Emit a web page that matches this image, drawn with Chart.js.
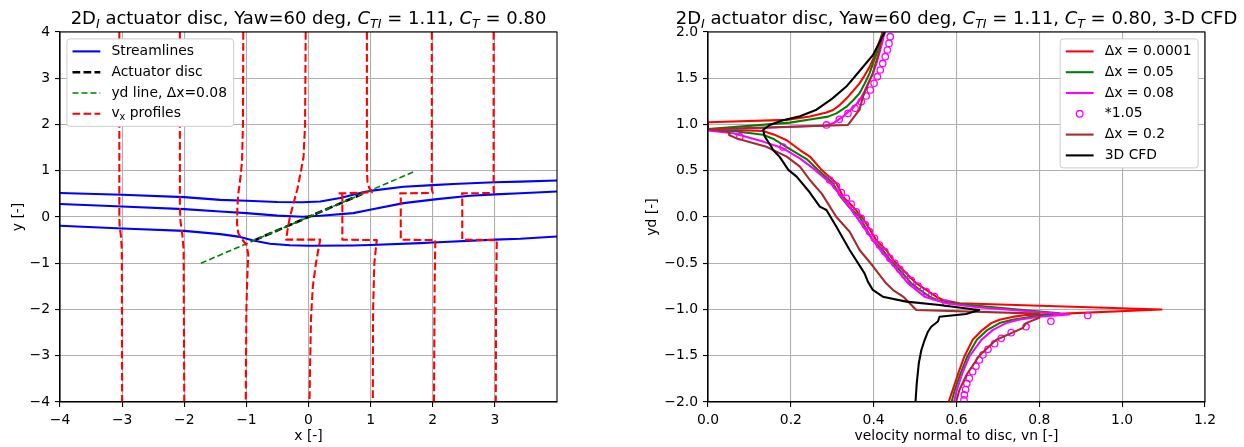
<!DOCTYPE html>
<html>
<head>
<meta charset="utf-8">
<script src="https://cdn.jsdelivr.net/npm/chart.js@4.4.1/dist/chart.umd.min.js"></script>
<style>
html,body{margin:0;padding:0;background:#fff;}
body{width:1244px;height:447px;position:relative;overflow:hidden;}
canvas{position:absolute;top:0;}
#c1{left:0;} #c2{left:622px;}
</style>
</head>
<body>
<canvas id="c1" width="622" height="447"></canvas>
<canvas id="c2" width="622" height="447"></canvas>
<script>
// ================= LEFT PANEL DATA =================
const xTicksL = [-4, -3, -2, -1, 0, 1, 2, 3];
const yTicksL = [-4, -3, -2, -1, 0, 1, 2, 3, 4];

const stream1X = [-4, -3, -2, -1.42, -1, -0.5, -0.1, 0.19, 0.51, 0.83, 0.99, 1.53, 2.0, 2.33, 3.0, 3.41, 4];
const stream1Y = [0.52, 0.48, 0.43, 0.37, 0.35, 0.325, 0.32, 0.335, 0.41, 0.52, 0.565, 0.655, 0.69, 0.715, 0.75, 0.765, 0.79];
const stream2X = [-4, -3, -2, -1.42, -1, -0.5, -0.1, 0.19, 0.72, 0.99, 1.53, 2.07, 2.6, 3.0, 3.41, 4];
const stream2Y = [0.28, 0.227, 0.17, 0.12, 0.084, 0.03, 0.005, 0.026, 0.084, 0.155, 0.30, 0.387, 0.458, 0.49, 0.515, 0.55];
const stream3X = [-4, -3, -2, -1.42, -1.1, -0.89, -0.62, -0.3, 0, 0.72, 1.0, 1.8, 2.0, 3.0, 3.41, 4];
const stream3Y = [-0.19, -0.25, -0.30, -0.37, -0.43, -0.51, -0.58, -0.61, -0.62, -0.615, -0.605, -0.565, -0.55, -0.49, -0.47, -0.42];

const discX = [-0.866, 0.866];
const discY = [-0.5, 0.5];
const ydLineX = [-1.732, 1.732];
const ydLineY = [-1, 1];

const profM3X = [-3.045, -3.045, -3.04, -3.02, -3.005, -3.0];
const profM3Y = [4, 0.0, -0.2, -0.4, -0.7, -4];
const profM2X = [-2.07, -2.07, -2.06, -2.03, -2.01, -2.0];
const profM2Y = [4, 0.2, -0.1, -0.4, -0.7, -4];
const profM1X = [-1.05, -1.055, -1.07, -1.10, -1.13, -1.145, -1.15, -1.13, -1.07, -1.0, -0.97, -0.985, -1.0, -1.01];
const profM1Y = [4, 2, 1.2, 0.8, 0.5, 0.2, -0.15, -0.35, -0.48, -0.6, -0.8, -1.3, -2, -4];
const prof0X = [-0.045, -0.055, -0.08, -0.12, -0.18, -0.24, -0.3, -0.34, -0.36, 0.19, 0.17, 0.12, 0.07, 0.04, 0.015];
const prof0Y = [4, 2, 1.3, 1.0, 0.6, 0.3, 0.0, -0.3, -0.49, -0.49, -0.62, -1.0, -1.5, -2.2, -4];
const prof1X = [0.94, 0.94, 0.95, 0.98, 1.02, 0.48, 0.545, 0.545, 1.10, 1.09, 1.06, 1.04, 1.035];
const prof1Y = [4, 1.0, 0.75, 0.62, 0.53, 0.51, 0.48, -0.49, -0.50, -0.6, -1.0, -2, -4];
const prof2X = [1.985, 1.985, 2.0, 1.475, 1.485, 1.485, 2.04, 2.04, 2.03, 2.02];
const prof2Y = [4, 0.6, 0.52, 0.51, 0.49, -0.49, -0.5, -0.6, -1.5, -4];
const prof3X = [2.98, 2.98, 2.985, 2.47, 2.475, 2.475, 3.03, 3.03, 3.02, 3.015];
const prof3Y = [4, 0.6, 0.52, 0.51, 0.49, -0.49, -0.5, -0.6, -1.5, -4];

// ================= RIGHT PANEL DATA =================
const xTicksR = [0, 0.2, 0.4, 0.6, 0.8, 1.0, 1.2];
const yTicksR = [-2, -1.5, -1, -0.5, 0, 0.5, 1, 1.5, 2];

const dx0001V = [0.422,0.414,0.406,0.398,0.39,0.378,0.366,0.35,0.334,0.318,0.302,0.286,0.246,0.19,0.0,
  0.0,0.06,0.133,0.16,0.19,0.222,0.246,0.274,0.31,0.326,0.35,0.372,0.39,0.406,0.43,0.447,0.468,0.487,0.503,0.527,0.551,0.567,0.607,
  1.095,
  0.8,0.768,0.735,0.704,0.684,0.663,0.639,0.619,0.605,0.591,0.581];
const dx0001Yd = [2.0,1.9,1.8,1.7,1.62,1.53,1.445,1.36,1.28,1.21,1.157,1.13,1.086,1.05,1.025,
  0.95,0.94,0.93,0.89,0.83,0.724,0.654,0.51,0.364,0.22,0.11,0.0,-0.13,-0.25,-0.357,-0.465,-0.56,-0.645,-0.717,-0.789,-0.86,-0.897,-0.933,
  -1.0,
  -1.055,-1.06,-1.08,-1.11,-1.147,-1.22,-1.328,-1.508,-1.68,-1.868,-2.0];

const dx005V = [0.422,0.416,0.41,0.4,0.39,0.378,0.366,0.35,0.334,0.31,0.29,0.246,0.198,0.0,
  0.0,0.06,0.133,0.16,0.202,0.24,0.265,0.302,0.32,0.34,0.366,0.382,0.398,0.422,0.44,0.46,0.477,0.491,0.512,0.535,0.555,0.591,0.65,
  0.848,
  0.784,0.735,0.704,0.675,0.649,0.626,0.61,0.596,0.588];
const dx005Yd = [2.0,1.9,1.805,1.68,1.553,1.44,1.337,1.26,1.19,1.12,1.085,1.055,1.02,0.95,
  0.945,0.93,0.89,0.84,0.724,0.62,0.51,0.364,0.22,0.11,0.003,-0.13,-0.25,-0.357,-0.465,-0.56,-0.645,-0.717,-0.789,-0.861,-0.9,-0.933,-0.96,
  -1.04,
  -1.075,-1.11,-1.147,-1.22,-1.328,-1.508,-1.69,-1.868,-2.0];

const dx008V = [0.427,0.418,0.408,0.398,0.39,0.378,0.366,0.35,0.334,0.326,0.305,0.286,0.0,
  0.0,0.061,0.133,0.181,0.222,0.254,0.296,0.33,0.358,0.39,0.416,0.45,0.483,0.523,0.575,0.65,
  0.872,
  0.8,0.75,0.72,0.688,0.66,0.631,0.614,0.601,0.594];
const dx008Yd = [2.0,1.84,1.68,1.553,1.48,1.36,1.26,1.18,1.12,1.084,1.02,0.99,0.94,
  0.935,0.905,0.815,0.743,0.634,0.526,0.364,0.18,0.003,-0.2,-0.357,-0.54,-0.717,-0.861,-0.933,-0.975,
  -1.055,
  -1.078,-1.11,-1.147,-1.22,-1.328,-1.508,-1.69,-1.868,-2.0];

const scaled105V = [0.44,0.437,0.433,0.428,0.422,0.416,0.409,0.401,0.392,0.382,0.37,0.355,0.338,0.317,0.286,
  0.077,0.181,0.294,0.31,0.322,0.334,0.346,0.358,0.37,0.38,0.39,0.402,0.414,0.427,0.439,0.451,0.463,0.475,0.491,0.507,0.527,0.547,0.575,
  0.917,0.828,0.768,0.732,0.708,0.692,0.676,0.664,0.655,0.647,0.639,0.631,0.625,0.622,0.619,0.618];
const scaled105Yd = [1.949,1.877,1.805,1.733,1.66,1.589,1.517,1.445,1.373,1.308,1.247,1.175,1.12,1.056,0.995,
  0.868,0.756,0.40,0.335,0.263,0.202,0.14,0.057,-0.014,-0.086,-0.159,-0.23,-0.303,-0.375,-0.447,-0.5,-0.566,-0.627,-0.688,-0.746,-0.807,-0.861,-0.933,
  -1.065,-1.127,-1.186,-1.25,-1.312,-1.37,-1.43,-1.49,-1.546,-1.614,-1.672,-1.744,-1.8,-1.865,-1.924,-1.978];

const dx02V = [0.422,0.414,0.398,0.385,0.374,0.366,0.338,0.0,
  0.053,0.051,0.069,0.1,0.141,0.19,0.222,0.246,0.275,0.31,0.342,0.366,0.398,0.43,0.447,0.471,0.503,
  0.8,0.8,
  0.768,0.76,0.735,0.695,0.655,0.625,0.607,0.599];
const dx02Yd = [2.0,1.8,1.553,1.42,1.3,1.16,0.995,0.948,
  0.922,0.886,0.85,0.81,0.76,0.652,0.544,0.40,0.25,0.0,-0.16,-0.357,-0.53,-0.717,-0.79,-0.86,-1.005,
  -1.045,-1.09,
  -1.147,-1.2,-1.25,-1.33,-1.5,-1.7,-1.87,-2.0];

const cfdV = [0.427,0.398,0.37,0.334,0.30,0.262,0.222,0.181,0.149,0.133,0.137,0.153,0.157,0.173,0.194,0.214,0.245,0.27,0.286,0.31,0.342,0.378,0.386,0.398,0.422,0.479,0.559,0.639,0.655,0.623,0.559,0.555,0.539,0.531,0.523,0.515,0.509,0.504,0.501];
const cfdYd = [2.0,1.75,1.6,1.41,1.28,1.16,1.09,1.045,0.995,0.94,0.87,0.76,0.724,0.65,0.51,0.436,0.27,0.112,0.076,-0.105,-0.357,-0.609,-0.699,-0.789,-0.861,-0.915,-0.951,-0.998,-1.005,-1.049,-1.078,-1.13,-1.186,-1.24,-1.33,-1.44,-1.58,-1.80,-2.0];

// ================= HELPERS =================
const FONT = "'DejaVu Sans', 'Liberation Sans', sans-serif";
const FS = 13.9;
const TITLE_FS = 18;
const LW = 2.08;
const DASH = [7.7, 3.3];
Chart.defaults.font.family = FONT;

function pts(xs, ys) { return xs.map((x, i) => ({x: x, y: ys[i]})); }
const minus = s => String(s).replace('-', '\u2212');

function lineDs(label, xs, ys, color, width, dash) {
  return {label, data: pts(xs, ys), showLine: true, borderColor: color, backgroundColor: color,
    borderWidth: width, borderDash: dash || [], pointRadius: 0, pointHoverRadius: 0, tension: 0,
    borderJoinStyle: 'round', borderCapStyle: 'butt', fill: false, clip: 0};
}

function axis(min, max, tickArr, fmt, titleText, titlePad, isX, fit) {
  return {
    type: 'linear', min, max,
    afterBuildTicks: s => { s.ticks = tickArr.map(v => ({value: v})); },
    afterFit: s => { if (isX) s.height = fit; else s.width = fit; },
    grid: {color: '#b0b0b0', lineWidth: 1.1, drawTicks: true, tickLength: 5, tickColor: '#000', tickWidth: 1.1},
    border: {display: true, color: '#000', width: 1.1},
    ticks: {color: '#000', font: {family: FONT, size: FS}, padding: 5, autoSkip: false, maxRotation: 0, minRotation: 0,
      callback: v => fmt(v)},
    title: {display: true, text: titleText, color: '#000', font: {family: FONT, size: FS}, padding: titlePad}
  };
}

function drawRich(ctx, segs, cx, baseY, size) {
  const fontFor = s => (s.it ? 'italic ' : '') + (s.sub ? size * 0.7 : size) + 'px ' + FONT;
  const widths = segs.map(s => { ctx.font = fontFor(s); return ctx.measureText(s.t).width; });
  const total = widths.reduce((a, b) => a + b, 0);
  let x = cx - total / 2;
  ctx.fillStyle = '#000'; ctx.textAlign = 'left'; ctx.textBaseline = 'alphabetic';
  segs.forEach((s, i) => {
    ctx.font = fontFor(s);
    ctx.fillText(s.t, x, baseY + (s.sub ? size * 0.22 : 0));
    x += widths[i];
  });
}

function roundRectPath(ctx, x, y, w, h, r) {
  ctx.beginPath();
  ctx.moveTo(x + r, y); ctx.lineTo(x + w - r, y); ctx.arcTo(x + w, y, x + w, y + r, r);
  ctx.lineTo(x + w, y + h - r); ctx.arcTo(x + w, y + h, x + w - r, y + h, r);
  ctx.lineTo(x + r, y + h); ctx.arcTo(x, y + h, x, y + h - r, r);
  ctx.lineTo(x, y + r); ctx.arcTo(x, y, x + r, y, r);
  ctx.closePath();
}

function drawLegend(ctx, area, items, anchorRight) {
  const pad = 5.6, handle = 27.8, gap = 11.1, rowH = 20.8, top = area.top + 6.9, firstC = 12.5;
  const subF = (FS * 0.7) + 'px ' + FONT, mainF = FS + 'px ' + FONT;
  const tw = items.map(it => {
    ctx.font = mainF; let w = ctx.measureText(it.label).width;
    if (it.sub) { ctx.font = subF; w += ctx.measureText(it.sub).width; ctx.font = mainF; w += ctx.measureText(it.after).width; }
    return w;
  });
  const w = pad + handle + gap + Math.max(...tw) + pad + 1;
  const h = 2 * firstC + (items.length - 1) * rowH;
  const x = anchorRight ? area.right - 6.9 - w : area.left + 6.9;
  ctx.save();
  roundRectPath(ctx, x, top, w, h, 3);
  ctx.fillStyle = '#ffffff'; ctx.fill();
  ctx.strokeStyle = '#cccccc'; ctx.lineWidth = 1; ctx.stroke();
  items.forEach((it, i) => {
    const cy = top + firstC + i * rowH;
    const hx0 = x + pad, hx1 = x + pad + handle;
    if (it.marker) {
      ctx.beginPath(); ctx.setLineDash([]);
      ctx.arc((hx0 + hx1) / 2, cy, 3.3, 0, Math.PI * 2);
      ctx.strokeStyle = it.color; ctx.lineWidth = 1.3; ctx.stroke();
    } else {
      ctx.beginPath(); ctx.setLineDash(it.dash || []);
      ctx.moveTo(hx0, cy); ctx.lineTo(hx1, cy);
      ctx.strokeStyle = it.color; ctx.lineWidth = it.width || LW; ctx.stroke();
      ctx.setLineDash([]);
    }
    ctx.fillStyle = '#000'; ctx.textAlign = 'left'; ctx.textBaseline = 'middle';
    let tx = hx1 + gap;
    ctx.font = mainF; ctx.fillText(it.label, tx, cy);
    if (it.sub) {
      tx += ctx.measureText(it.label).width;
      ctx.font = subF; ctx.fillText(it.sub, tx, cy + 3.5);
      tx += ctx.measureText(it.sub).width;
      ctx.font = mainF; ctx.fillText(it.after, tx, cy);
    }
  });
  ctx.restore();
}

function decorPlugin(legendItems, anchorRight, titleSegs) {
  return {
    id: 'decor',
    afterDraw(chart) {
      const ctx = chart.ctx, a = chart.chartArea;
      ctx.save();
      ctx.strokeStyle = '#000'; ctx.lineWidth = 1.1; ctx.setLineDash([]);
      ctx.strokeRect(a.left, a.top, a.right - a.left, a.bottom - a.top);
      ctx.restore();
      drawLegend(ctx, a, legendItems, anchorRight);
      ctx.save();
      drawRich(ctx, titleSegs, (a.left + a.right) / 2, a.top - 8.3, TITLE_FS);
      ctx.restore();
    }
  };
}

function titleSegs(extra) {
  const s = [
    {t: '2D'}, {t: 'I', it: true, sub: true}, {t: ' actuator disc, Yaw=60 deg, '},
    {t: 'C', it: true}, {t: 'TI', it: true, sub: true}, {t: ' = 1.11, '},
    {t: 'C', it: true}, {t: 'T', it: true, sub: true}, {t: ' = 0.80'}
  ];
  if (extra) s.push({t: extra});
  return s;
}

const commonOpts = {
  responsive: false, animation: false, devicePixelRatio: 1, events: [],
  plugins: {legend: {display: false}, title: {display: false}, tooltip: {enabled: false}}
};

// ================= LEFT CHART =================
const leftSets = [
  lineDs('Streamlines', stream1X, stream1Y, '#0000ff', LW),
  lineDs('', stream2X, stream2Y, '#0000ff', LW),
  lineDs('', stream3X, stream3Y, '#0000ff', LW),
  lineDs('Actuator disc', discX, discY, '#000000', 2.6, DASH),
  lineDs('yd line', ydLineX, ydLineY, '#008000', 1.6, [6, 3]),
  lineDs('vx profiles', profM3X, profM3Y, '#ff0000', LW, DASH),
  lineDs('', profM2X, profM2Y, '#ff0000', LW, DASH),
  lineDs('', profM1X, profM1Y, '#ff0000', LW, DASH),
  lineDs('', prof0X, prof0Y, '#ff0000', LW, DASH),
  lineDs('', prof1X, prof1Y, '#ff0000', LW, DASH),
  lineDs('', prof2X, prof2Y, '#ff0000', LW, DASH),
  lineDs('', prof3X, prof3Y, '#ff0000', LW, DASH)
];
leftSets.forEach((d, i) => { d.order = leftSets.length - 1 - i; });

new Chart(document.getElementById('c1'), {
  type: 'scatter',
  data: {datasets: leftSets},
  options: Object.assign({}, commonOpts, {
    layout: {padding: {left: 0, right: 65, top: 32, bottom: 0}},
    scales: {
      x: axis(-4, 4, xTicksL, v => minus(v), 'x [-]', {top: 0, bottom: 2}, true, 45),
      y: axis(-4, 4, yTicksL, v => minus(v), 'y [-]', {top: 10, bottom: 0}, false, 60)
    }
  }),
  plugins: [decorPlugin([
    {label: 'Streamlines', color: '#0000ff'},
    {label: 'Actuator disc', color: '#000000', dash: DASH, width: 2.6},
    {label: 'yd line, \u0394x=0.08', color: '#008000', dash: [6, 3], width: 1.6},
    {label: 'v', sub: 'x', after: ' profiles', color: '#ff0000', dash: DASH}
  ], false, titleSegs(''))]
});

// ================= RIGHT CHART =================
const rightSets = [
  lineDs('\u0394x = 0.0001', dx0001V, dx0001Yd, '#ff0000', LW),
  lineDs('\u0394x = 0.05', dx005V, dx005Yd, '#008000', LW),
  lineDs('\u0394x = 0.08', dx008V, dx008Yd, '#ff00ff', LW),
  {label: '*1.05', data: pts(scaled105V, scaled105Yd), showLine: false, pointRadius: 3.2, pointStyle: 'circle',
    pointBorderColor: '#ff00ff', pointBackgroundColor: 'rgba(0,0,0,0)', pointBorderWidth: 1.3, clip: 0},
  lineDs('\u0394x = 0.2', dx02V, dx02Yd, '#a52a2a', LW),
  lineDs('3D CFD', cfdV, cfdYd, '#000000', LW)
];
rightSets.forEach((d, i) => { d.order = rightSets.length - 1 - i; });

new Chart(document.getElementById('c2'), {
  type: 'scatter',
  data: {datasets: rightSets},
  options: Object.assign({}, commonOpts, {
    layout: {padding: {left: 0, right: 39, top: 32, bottom: 0}},
    scales: {
      x: axis(0, 1.2, xTicksR, v => Number(v).toFixed(1), 'velocity normal to disc, vn [-]', {top: 0, bottom: 2}, true, 45),
      y: axis(-2, 2, yTicksR, v => minus(Number(v).toFixed(1)), 'yd [-]', {top: 22, bottom: 0}, false, 86)
    }
  }),
  plugins: [decorPlugin([
    {label: '\u0394x = 0.0001', color: '#ff0000'},
    {label: '\u0394x = 0.05', color: '#008000'},
    {label: '\u0394x = 0.08', color: '#ff00ff'},
    {label: '*1.05', color: '#ff00ff', marker: true},
    {label: '\u0394x = 0.2', color: '#a52a2a'},
    {label: '3D CFD', color: '#000000'}
  ], true, titleSegs(', 3-D CFD'))]
});
</script>
</body>
</html>
